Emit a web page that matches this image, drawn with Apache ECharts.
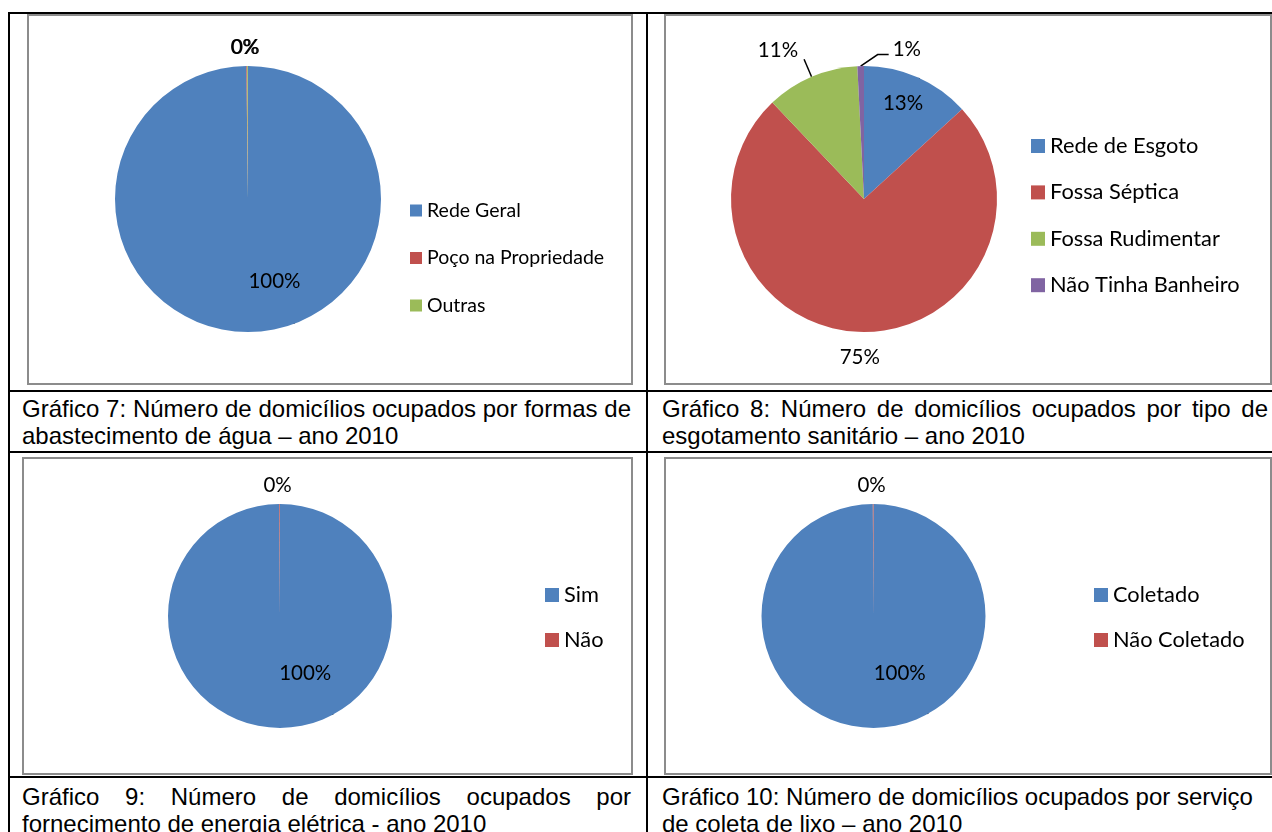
<!DOCTYPE html>
<html>
<head>
<meta charset="utf-8">
<script src="https://cdn.jsdelivr.net/npm/echarts@6/dist/echarts.min.js"></script>
<style>
  html, body { margin: 0; padding: 0; background: #fff; }
  #page { position: relative; width: 1272px; height: 832px; overflow: hidden; }
  .ln { position: absolute; background: #000; }
  .frame { position: absolute; border: 2px solid #8c8c8c; box-sizing: border-box; }
  #chart { position: absolute; left: 0; top: 0; width: 1272px; height: 832px; }
  .cap { position: absolute; font-family: 'Liberation Sans', Arial, sans-serif; font-size: 24px; line-height: 27px; color: #000; white-space: nowrap; }
  .cap .j { text-align: justify; text-align-last: justify; }
</style>
</head>
<body>
<div id="page">
  <!-- linhas da tabela -->
  <div class="ln" style="left:8px;top:12px;width:1264px;height:2px"></div>
  <div class="ln" style="left:8px;top:390px;width:1264px;height:2px"></div>
  <div class="ln" style="left:8px;top:451px;width:1264px;height:2px"></div>
  <div class="ln" style="left:8px;top:776px;width:1264px;height:2px"></div>
  <div class="ln" style="left:8px;top:12px;width:2px;height:820px"></div>
  <div class="ln" style="left:646px;top:12px;width:2px;height:820px"></div>
  <!-- molduras dos graficos -->
  <div class="frame" style="left:27px;top:14px;width:606px;height:371px"></div>
  <div class="frame" style="left:664px;top:14px;width:608px;height:371px"></div>
  <div class="frame" style="left:22px;top:457px;width:611px;height:318px"></div>
  <div class="frame" style="left:664px;top:457px;width:608px;height:318px"></div>
  <!-- legendas dos graficos (texto do documento) -->
  <div class="cap" style="left:22px;top:395px;width:609px">
    <div class="j">Gráfico 7: Número de domicílios ocupados por formas de</div>
    <div>abastecimento de água – ano 2010</div>
  </div>
  <div class="cap" style="left:662px;top:395px;width:606px">
    <div class="j">Gráfico 8: Número de domicílios ocupados por tipo de</div>
    <div>esgotamento sanitário – ano 2010</div>
  </div>
  <div class="cap" style="left:22px;top:783px;width:609px">
    <div class="j">Gráfico 9: Número de domicílios ocupados por</div>
    <div>fornecimento de energia elétrica - ano 2010</div>
  </div>
  <div class="cap" style="left:662px;top:783px;width:606px">
    <div>Gráfico 10: Número de domicílios ocupados por serviço</div>
    <div>de coleta de lixo – ano 2010</div>
  </div>
  <div id="chart"></div>
</div>
<script>
// dados (percentuais)
var waterNames = ['Rede Geral', 'Poço na Propriedade', 'Outras'];
var waterValues = [99.8, 0.1, 0.1];
var sewerNames = ['Rede de Esgoto', 'Fossa Séptica', 'Fossa Rudimentar', 'Não Tinha Banheiro'];
var sewerValues = [13.2, 74.7, 11.3, 0.8];
var energyNames = ['Sim', 'Não'];
var energyValues = [99.9, 0.1];
var trashNames = ['Coletado', 'Não Coletado'];
var trashValues = [99.9, 0.1];

var palette = ['#4f81bd', '#c0504d', '#9bbb59', '#8064a2'];
var labelFont = 'Lato';

// ajuste fino dos rotulos: [dx, dy, align] relativo a posicao padrao
function placeLabel(shifts) {
  return function (p) {
    var s = shifts[p.dataIndex];
    var pts = p.labelLinePoints;
    if (s === 'bent' && pts) {
      // linha-guia dobrada para a direita (estilo Excel)
      var a = pts[0];
      return {
        x: a[0] + 32, y: a[1] - 17, align: 'left', verticalAlign: 'middle',
        labelLinePoints: [a, [a[0] + 17, a[1] - 11.5], [a[0] + 28, a[1] - 11.5]]
      };
    }
    var r = p.labelRect;
    var bx = r.x + r.width / 2, by = r.y + r.height / 2;
    if (pts) {
      bx = pts[pts.length - 1][0];
      by = pts[pts.length - 1][1];
    }
    var out = { x: bx + s[0], y: by + s[1], align: s[2] || 'center', verticalAlign: 'middle' };
    if (pts) out.labelLinePoints = pts;
    return out;
  };
}

function makePie(names, values, center, radius, positions, hiddenLines, shifts) {
  return {
    type: 'pie',
    center: center,
    radius: radius,
    startAngle: 90,
    clockwise: true,
    avoidLabelOverlap: false,
    animation: false,
    emphasis: { disabled: true },
    itemStyle: { borderWidth: 0 },
    label: {
      show: true,
      position: 'outside',
      formatter: function (p) { return Math.round(p.percent) + '%'; },
      fontFamily: labelFont,
      fontSize: 20.5,
      color: '#000'
    },
    labelLine: {
      show: true, length: 19, length2: 0, smooth: false,
      lineStyle: { color: '#000', width: 1.5 }
    },
    labelLayout: placeLabel(shifts),
    data: names.map(function (n, i) {
      var item = { name: n, value: values[i], itemStyle: { color: palette[i] } };
      if (positions[i] === 'inside') item.label = { position: 'inside' };
      if (hiddenLines[i]) item.labelLine = { lineStyle: { opacity: 0 } };
      return item;
    })
  };
}

function makeLegend(names, left, top, box, gap, size) {
  return {
    data: names,
    orient: 'vertical',
    left: left,
    top: top,
    padding: 0,
    icon: 'rect',
    itemWidth: box,
    itemHeight: box,
    itemGap: gap,
    selectedMode: false,
    textStyle: { fontFamily: labelFont, fontSize: size, lineHeight: 24, color: '#000' }
  };
}

var chart = echarts.init(document.getElementById('chart'));
chart.setOption({
  animation: false,
  legend: [
    makeLegend(waterNames, 410, 198.5, 12, 23.5, 19.5),
    makeLegend(sewerNames, 1031, 134, 14, 22.4, 21.8),
    makeLegend(energyNames, 545, 583, 14, 21, 21.8),
    makeLegend(trashNames, 1094, 583, 14, 21, 21.8)
  ],
  series: [
    makePie(waterNames, waterValues, [248, 199], 133,
      ['inside', 'outside', 'outside'], [false, true, true],
      [[26, 12.5], [-2, 0], [-2, 0]]),
    makePie(sewerNames, sewerValues, [864, 199], 133,
      ['inside', 'outside', 'outside', 'outside'], [false, true, false, false],
      [[11, -32], [1, 6], [-6, -9, 'right'], 'bent']),
    makePie(energyNames, energyValues, [280, 616], 112,
      ['inside', 'outside'], [false, true],
      [[25, -1.5], [-2, 0]]),
    makePie(trashNames, trashValues, [873.5, 616], 112,
      ['inside', 'outside'], [false, true],
      [[26, -1.5], [-1.5, 0]])
  ]
});
window.onresize = function () { chart.resize(); };
</script>
</body>
</html>
